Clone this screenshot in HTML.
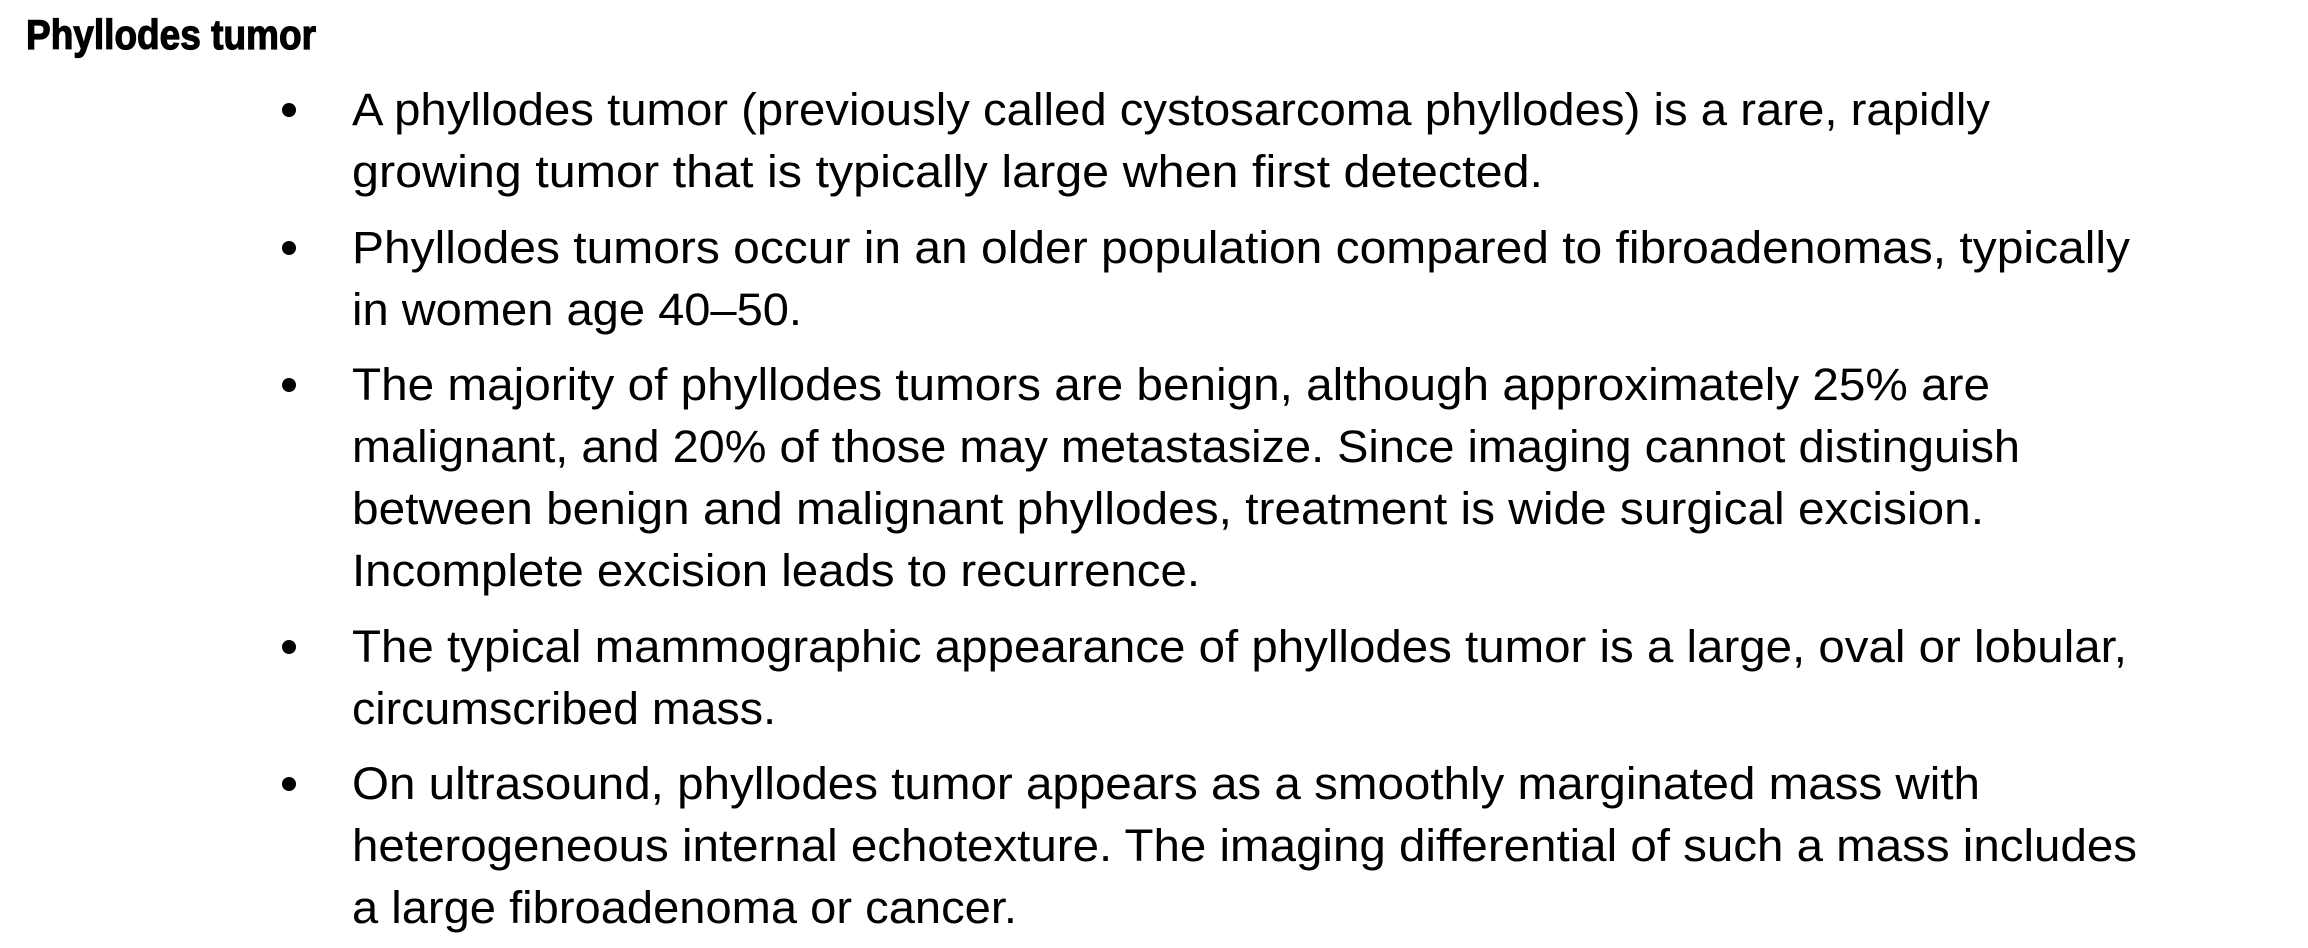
<!DOCTYPE html>
<html><head><meta charset="utf-8"><style>
html,body{margin:0;padding:0;background:#fff;}
svg{display:block}
text{font-family:"Liberation Sans",sans-serif;fill:#000;}
</style></head><body>
<svg width="2308" height="948" viewBox="0 0 2308 948">
<text x="26" y="49" font-size="42" font-weight="bold" stroke="#000" stroke-width="1.2" textLength="290" lengthAdjust="spacingAndGlyphs">Phyllodes tumor</text>
<g font-size="45">
<circle cx="289" cy="110" r="7"/>
<text x="352" y="125" textLength="1638" lengthAdjust="spacingAndGlyphs">A phyllodes tumor (previously called cystosarcoma phyllodes) is a rare, rapidly</text>
<text x="352" y="187" textLength="1191" lengthAdjust="spacingAndGlyphs">growing tumor that is typically large when first detected.</text>
<circle cx="289" cy="248" r="7"/>
<text x="352" y="263" textLength="1778" lengthAdjust="spacingAndGlyphs">Phyllodes tumors occur in an older population compared to fibroadenomas, typically</text>
<text x="352" y="325" textLength="450" lengthAdjust="spacingAndGlyphs">in women age 40–50.</text>
<circle cx="289" cy="385" r="7"/>
<text x="352" y="400" textLength="1638" lengthAdjust="spacingAndGlyphs">The majority of phyllodes tumors are benign, although approximately 25% are</text>
<text x="352" y="462" textLength="1668" lengthAdjust="spacingAndGlyphs">malignant, and 20% of those may metastasize. Since imaging cannot distinguish</text>
<text x="352" y="524" textLength="1632" lengthAdjust="spacingAndGlyphs">between benign and malignant phyllodes, treatment is wide surgical excision.</text>
<text x="352" y="586" textLength="848" lengthAdjust="spacingAndGlyphs">Incomplete excision leads to recurrence.</text>
<circle cx="289" cy="647" r="7"/>
<text x="352" y="662" textLength="1775" lengthAdjust="spacingAndGlyphs">The typical mammographic appearance of phyllodes tumor is a large, oval or lobular,</text>
<text x="352" y="724" textLength="424" lengthAdjust="spacingAndGlyphs">circumscribed mass.</text>
<circle cx="289" cy="784" r="7"/>
<text x="352" y="799" textLength="1628" lengthAdjust="spacingAndGlyphs">On ultrasound, phyllodes tumor appears as a smoothly marginated mass with</text>
<text x="352" y="861" textLength="1785" lengthAdjust="spacingAndGlyphs">heterogeneous internal echotexture. The imaging differential of such a mass includes</text>
<text x="352" y="923" textLength="665" lengthAdjust="spacingAndGlyphs">a large fibroadenoma or cancer.</text>
</g>
</svg>
</body></html>
